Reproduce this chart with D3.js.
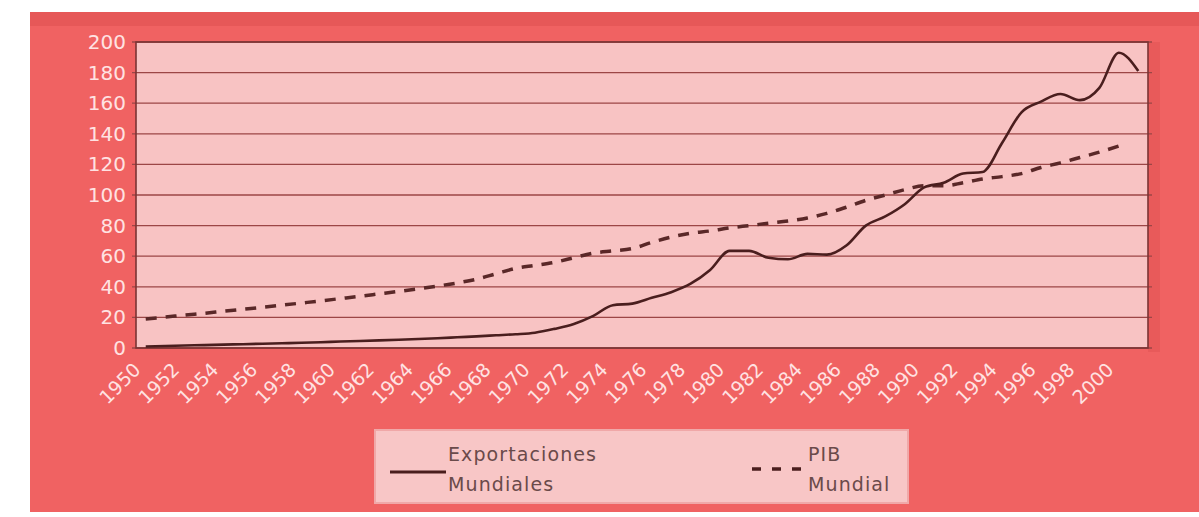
<!DOCTYPE html>
<html><head><meta charset="utf-8">
<script src="https://cdn.jsdelivr.net/npm/d3@7"></script>
<style>body{margin:0;background:#fff}svg{display:block}</style>
</head><body>
<svg id="c" width="1199" height="517"></svg>
<script>
const years = d3.range(1950, 2002);
const tickYears = d3.range(1950, 2001, 2);
const yTicks = [0,20,40,60,80,100,120,140,160,180,200];
const exportaciones = [1,1.3,1.6,1.9,2.2,2.5,2.8,3.1,3.4,3.8,4.2,4.6,5,5.4,5.9,6.4,7,7.6,8.3,9,10,12.5,15.7,21,28,29,32.8,36.5,42,51,63.5,63.5,59,58,61.5,61,67,80,86,94,105,108,114,115,134,154,161,166,162,170,193,181];
const pibYears = d3.range(1950, 2001);
const pib = [19,20.2,21.5,22.7,24,25.3,26.6,28,29.4,30.8,32.3,33.8,35.4,37,38.7,40.5,42.5,45,48.5,52,54,56,59,62,63.5,65,69,72.5,75,76.5,78.5,80,81.5,83,85,88,92,96.5,100,103.5,106,106,108,110.5,112,114,118,121,124.5,128,132];
const legendLabels = [["Exportaciones","Mundiales"],["PIB","Mundial"]];

const svg = d3.select("#c");
const L = 136, R = 1148, T = 42, B = 348;

// outer panel
svg.append("rect").attr("x",30).attr("y",12).attr("width",1169).attr("height",500).attr("fill","#f06262");
svg.append("rect").attr("x",30).attr("y",12).attr("width",1169).attr("height",14).attr("fill","#e65858");
svg.append("rect").attr("x",R).attr("y",T).attr("width",12).attr("height",B-T+4).attr("fill","#e85a5a");

const x = d3.scaleBand().domain(years).range([L, R]);
const cx = d => x(d) + x.bandwidth()/2;
const y = d3.scaleLinear().domain([0,200]).range([B, T]);

svg.append("rect").attr("x",L).attr("y",T).attr("width",R-L).attr("height",B-T).attr("fill","#f8c3c3");

// gridlines
svg.append("g").selectAll("line").data(yTicks).join("line")
  .attr("x1",L-4).attr("x2",R+4).attr("y1",d=>y(d)).attr("y2",d=>y(d))
  .attr("stroke","#9c4646").attr("stroke-width",1.3);
// border
svg.append("rect").attr("x",L).attr("y",T).attr("width",R-L).attr("height",B-T)
  .attr("fill","none").attr("stroke","#7a3434").attr("stroke-width",1.6);

// y labels
svg.append("g").selectAll("text").data(yTicks).join("text")
  .attr("x",126).attr("y",d=>y(d)+7).attr("text-anchor","end")
  .attr("font-family","DejaVu Sans").attr("font-size",20).attr("fill","#ffe2e2")
  .text(d=>d);

// x labels
svg.append("g").selectAll("text").data(tickYears).join("text")
  .attr("transform",d=>`translate(${cx(d)-4},${B+23}) rotate(-45)`)
  .attr("text-anchor","end")
  .attr("font-family","DejaVu Sans").attr("font-size",19).attr("fill","#ffe2e2")
  .text(d=>d);

const line = d3.line().curve(d3.curveMonotoneX);
svg.append("path").attr("d", line(pibYears.map((yr,i)=>[cx(yr), y(pib[i])])))
  .attr("fill","none").attr("stroke","#5a2828").attr("stroke-width",3.5).attr("stroke-dasharray","11,9");
svg.append("path").attr("d", line(years.map((yr,i)=>[cx(yr), y(exportaciones[i])])))
  .attr("fill","none").attr("stroke","#4a1e1e").attr("stroke-width",2.6);

// legend
const lg = svg.append("g");
lg.append("rect").attr("x",375).attr("y",430).attr("width",533).attr("height",73)
  .attr("fill","#f8c6c6").attr("stroke","#f0a8a8").attr("stroke-width",2);
lg.append("line").attr("x1",390).attr("x2",446).attr("y1",472).attr("y2",472)
  .attr("stroke","#4a1e1e").attr("stroke-width",3);
lg.append("line").attr("x1",752).attr("x2",806).attr("y1",469).attr("y2",469)
  .attr("stroke","#4a1e1e").attr("stroke-width",3.5).attr("stroke-dasharray","9,11");
const lt = [[448,legendLabels[0]],[808,legendLabels[1]]];
lt.forEach(([lx,lines])=>{
  lg.append("text").attr("x",lx).attr("y",461).attr("font-family","DejaVu Sans").attr("font-size",19)
    .attr("letter-spacing",1.1).attr("fill","#6a4a4a").text(lines[0]);
  lg.append("text").attr("x",lx).attr("y",491).attr("font-family","DejaVu Sans").attr("font-size",19)
    .attr("letter-spacing",1.1).attr("fill","#6a4a4a").text(lines[1]);
});
</script>
</body></html>
